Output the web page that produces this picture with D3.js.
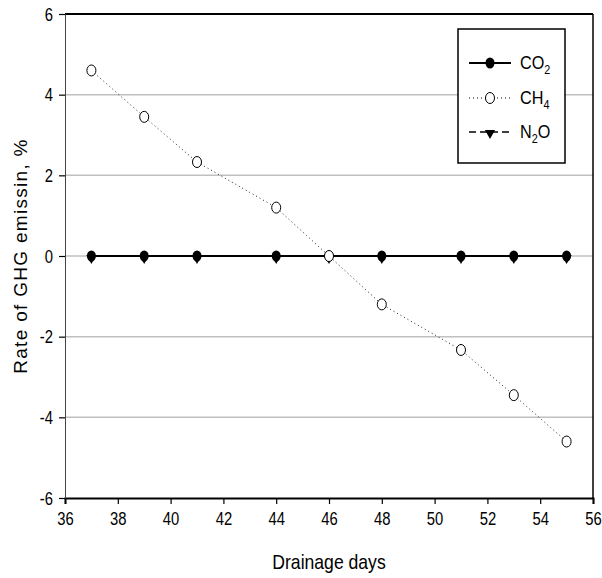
<!DOCTYPE html>
<html>
<head>
<meta charset="utf-8">
<script src="https://cdn.jsdelivr.net/npm/d3@7"></script>
<style>
  body { margin: 0; background: #fff; }
  text { font-family: "Liberation Sans", Arial, sans-serif; }
</style>
</head>
<body>
<script>
// drainage days and emission rates (%)
var days = [37, 39, 41, 44, 46, 48, 51, 53, 55];
var co2 = [0, 0, 0, 0, 0, 0, 0, 0, 0];
var ch4 = [4.6, 3.45, 2.33, 1.2, 0, -1.2, -2.33, -3.45, -4.6];
var n2o = [0, 0, 0, 0, 0, 0, 0, 0, 0];
var xTicks = [36, 38, 40, 42, 44, 46, 48, 50, 52, 54, 56];
var yTicks = [-6, -4, -2, 0, 2, 4, 6];
var gridTicks = [-4, -2, 0, 2, 4];

var width = 602, height = 578;
var pLeft = 65, pRight = 593, pTop = 14, pBottom = 498;
// the reference font is a squeezed Arial
var squeeze = 0.78;

var svg = d3.select('body').append('svg')
    .attr('width', width)
    .attr('height', height);

var x = d3.scaleLinear().domain([36, 56]).range([pLeft, pRight]);
var y = d3.scaleLinear().domain([-6, 6]).range([pBottom, pTop]);

// gridlines
svg.append('g').selectAll('line')
    .data(gridTicks)
    .enter().append('line')
    .attr('x1', pLeft).attr('x2', pRight)
    .attr('y1', function(d) { return y(d); })
    .attr('y2', function(d) { return y(d); })
    .attr('stroke', '#c0c0c0')
    .attr('stroke-width', 1.5);

// frame
svg.append('line').attr('x1', pLeft).attr('x2', pRight).attr('y1', pTop).attr('y2', pTop)
    .attr('stroke', '#000').attr('stroke-width', 2);
svg.append('line').attr('x1', pRight).attr('x2', pRight).attr('y1', pTop).attr('y2', pBottom)
    .attr('stroke', '#000').attr('stroke-width', 1.5);

// axes, plain hyphen for negatives like the original
var fmt = function(d) { return String(d); };
var xAxis = d3.axisBottom(x).tickValues(xTicks).tickFormat(fmt).tickSize(6).tickPadding(8);
var yAxis = d3.axisLeft(y).tickValues(yTicks).tickFormat(fmt).tickSize(6).tickPadding(6);

var gx = svg.append('g').attr('transform', 'translate(0,' + pBottom + ')').call(xAxis);
var gy = svg.append('g').attr('transform', 'translate(' + pLeft + ',0)').call(yAxis);

gx.select('.domain').attr('stroke', '#000').attr('stroke-width', 2);
gy.select('.domain').attr('stroke', '#444').attr('stroke-width', 1);
gx.selectAll('.tick line').attr('stroke', '#000').attr('stroke-width', 1.2);
gy.selectAll('.tick line').attr('stroke', '#000').attr('stroke-width', 1.2);

[gx, gy].forEach(function(g) {
    g.selectAll('text')
        .style('font-size', '19px')
        .attr('fill', '#000')
        .style('font-family', '"Liberation Sans", Arial, sans-serif')
        .attr('x', function() { return (+d3.select(this).attr('x') || 0) / squeeze; })
        .attr('transform', 'scale(' + squeeze + ',1)');
});

// axis titles
svg.append('text')
    .attr('transform', 'translate(' + ((pLeft + pRight) / 2) + ',569) scale(0.88,1)')
    .attr('text-anchor', 'middle')
    .attr('font-size', '20px')
    .text('Drainage days');

svg.append('text')
    .attr('transform', 'translate(27,' + y(0) + ') rotate(-90)')
    .attr('text-anchor', 'middle')
    .attr('font-size', '19px')
    .attr('letter-spacing', '1.3px')
    .text('Rate of GHG emissin, %');

var line = d3.line()
    .x(function(d, i) { return x(days[i]); })
    .y(function(d) { return y(d); });

var tri = d3.symbol().type(d3.symbolTriangle).size(45);

// N2O
svg.append('path').datum(n2o)
    .attr('d', line)
    .attr('fill', 'none')
    .attr('stroke', '#000')
    .attr('stroke-width', 1.5)
    .attr('stroke-dasharray', '8,4');
svg.append('g').selectAll('path')
    .data(n2o)
    .enter().append('path')
    .attr('d', tri)
    .attr('transform', function(d, i) { return 'translate(' + x(days[i]) + ',' + (y(d) + 2) + ') rotate(180)'; })
    .attr('fill', '#000');

// CO2
svg.append('path').datum(co2)
    .attr('d', line)
    .attr('fill', 'none')
    .attr('stroke', '#000')
    .attr('stroke-width', 2);
svg.append('g').selectAll('ellipse')
    .data(co2)
    .enter().append('ellipse')
    .attr('cx', function(d, i) { return x(days[i]); })
    .attr('cy', function(d) { return y(d); })
    .attr('rx', 4.5).attr('ry', 5.5)
    .attr('fill', '#000');

// CH4
svg.append('path').datum(ch4)
    .attr('d', line)
    .attr('fill', 'none')
    .attr('stroke', '#223')
    .attr('stroke-width', 1)
    .attr('stroke-dasharray', '1,3');
svg.append('g').selectAll('ellipse')
    .data(ch4)
    .enter().append('ellipse')
    .attr('cx', function(d, i) { return x(days[i]); })
    .attr('cy', function(d) { return y(d); })
    .attr('rx', 4.5).attr('ry', 5.5)
    .attr('fill', '#fff')
    .attr('stroke', '#000')
    .attr('stroke-width', 1);

// legend
var keys = [
    { name: 'CO', sub: '2', dash: null, width: 2, symbol: 'dot' },
    { name: 'CH', sub: '4', dash: '1,3', width: 1, symbol: 'open' },
    { name: 'N', sub: '2', tail: 'O', dash: '7,4', width: 1.5, symbol: 'tri' }
];
var lg = svg.append('g');
lg.append('rect')
    .attr('x', 458).attr('y', 29)
    .attr('width', 107).attr('height', 134)
    .attr('fill', '#fff')
    .attr('stroke', '#000')
    .attr('stroke-width', 1.5);

var item = lg.selectAll('g.key')
    .data(keys)
    .enter().append('g')
    .attr('class', 'key')
    .attr('transform', function(d, i) { return 'translate(0,' + [63, 98, 132][i] + ')'; });

item.append('line')
    .attr('x1', 469).attr('x2', 511)
    .attr('stroke', '#000')
    .attr('stroke-width', function(d) { return d.width; })
    .attr('stroke-dasharray', function(d) { return d.dash; });

item.filter(function(d) { return d.symbol === 'dot'; }).append('ellipse')
    .attr('cx', 490).attr('rx', 4.5).attr('ry', 5.5).attr('fill', '#000');
item.filter(function(d) { return d.symbol === 'open'; }).append('ellipse')
    .attr('cx', 490).attr('rx', 4.5).attr('ry', 5.5)
    .attr('fill', '#fff').attr('stroke', '#000').attr('stroke-width', 1);
item.filter(function(d) { return d.symbol === 'tri'; }).append('path')
    .attr('d', tri)
    .attr('transform', 'translate(490,1) rotate(180)')
    .attr('fill', '#000');

var lt = item.append('text')
    .attr('transform', 'translate(520,6) scale(0.9,1)')
    .attr('font-size', '18px');
lt.append('tspan').text(function(d) { return d.name; });
lt.append('tspan').attr('dy', 5).attr('font-size', '12px').text(function(d) { return d.sub; });
lt.append('tspan').attr('dy', -5).text(function(d) { return d.tail || ''; });
</script>
</body>
</html>
